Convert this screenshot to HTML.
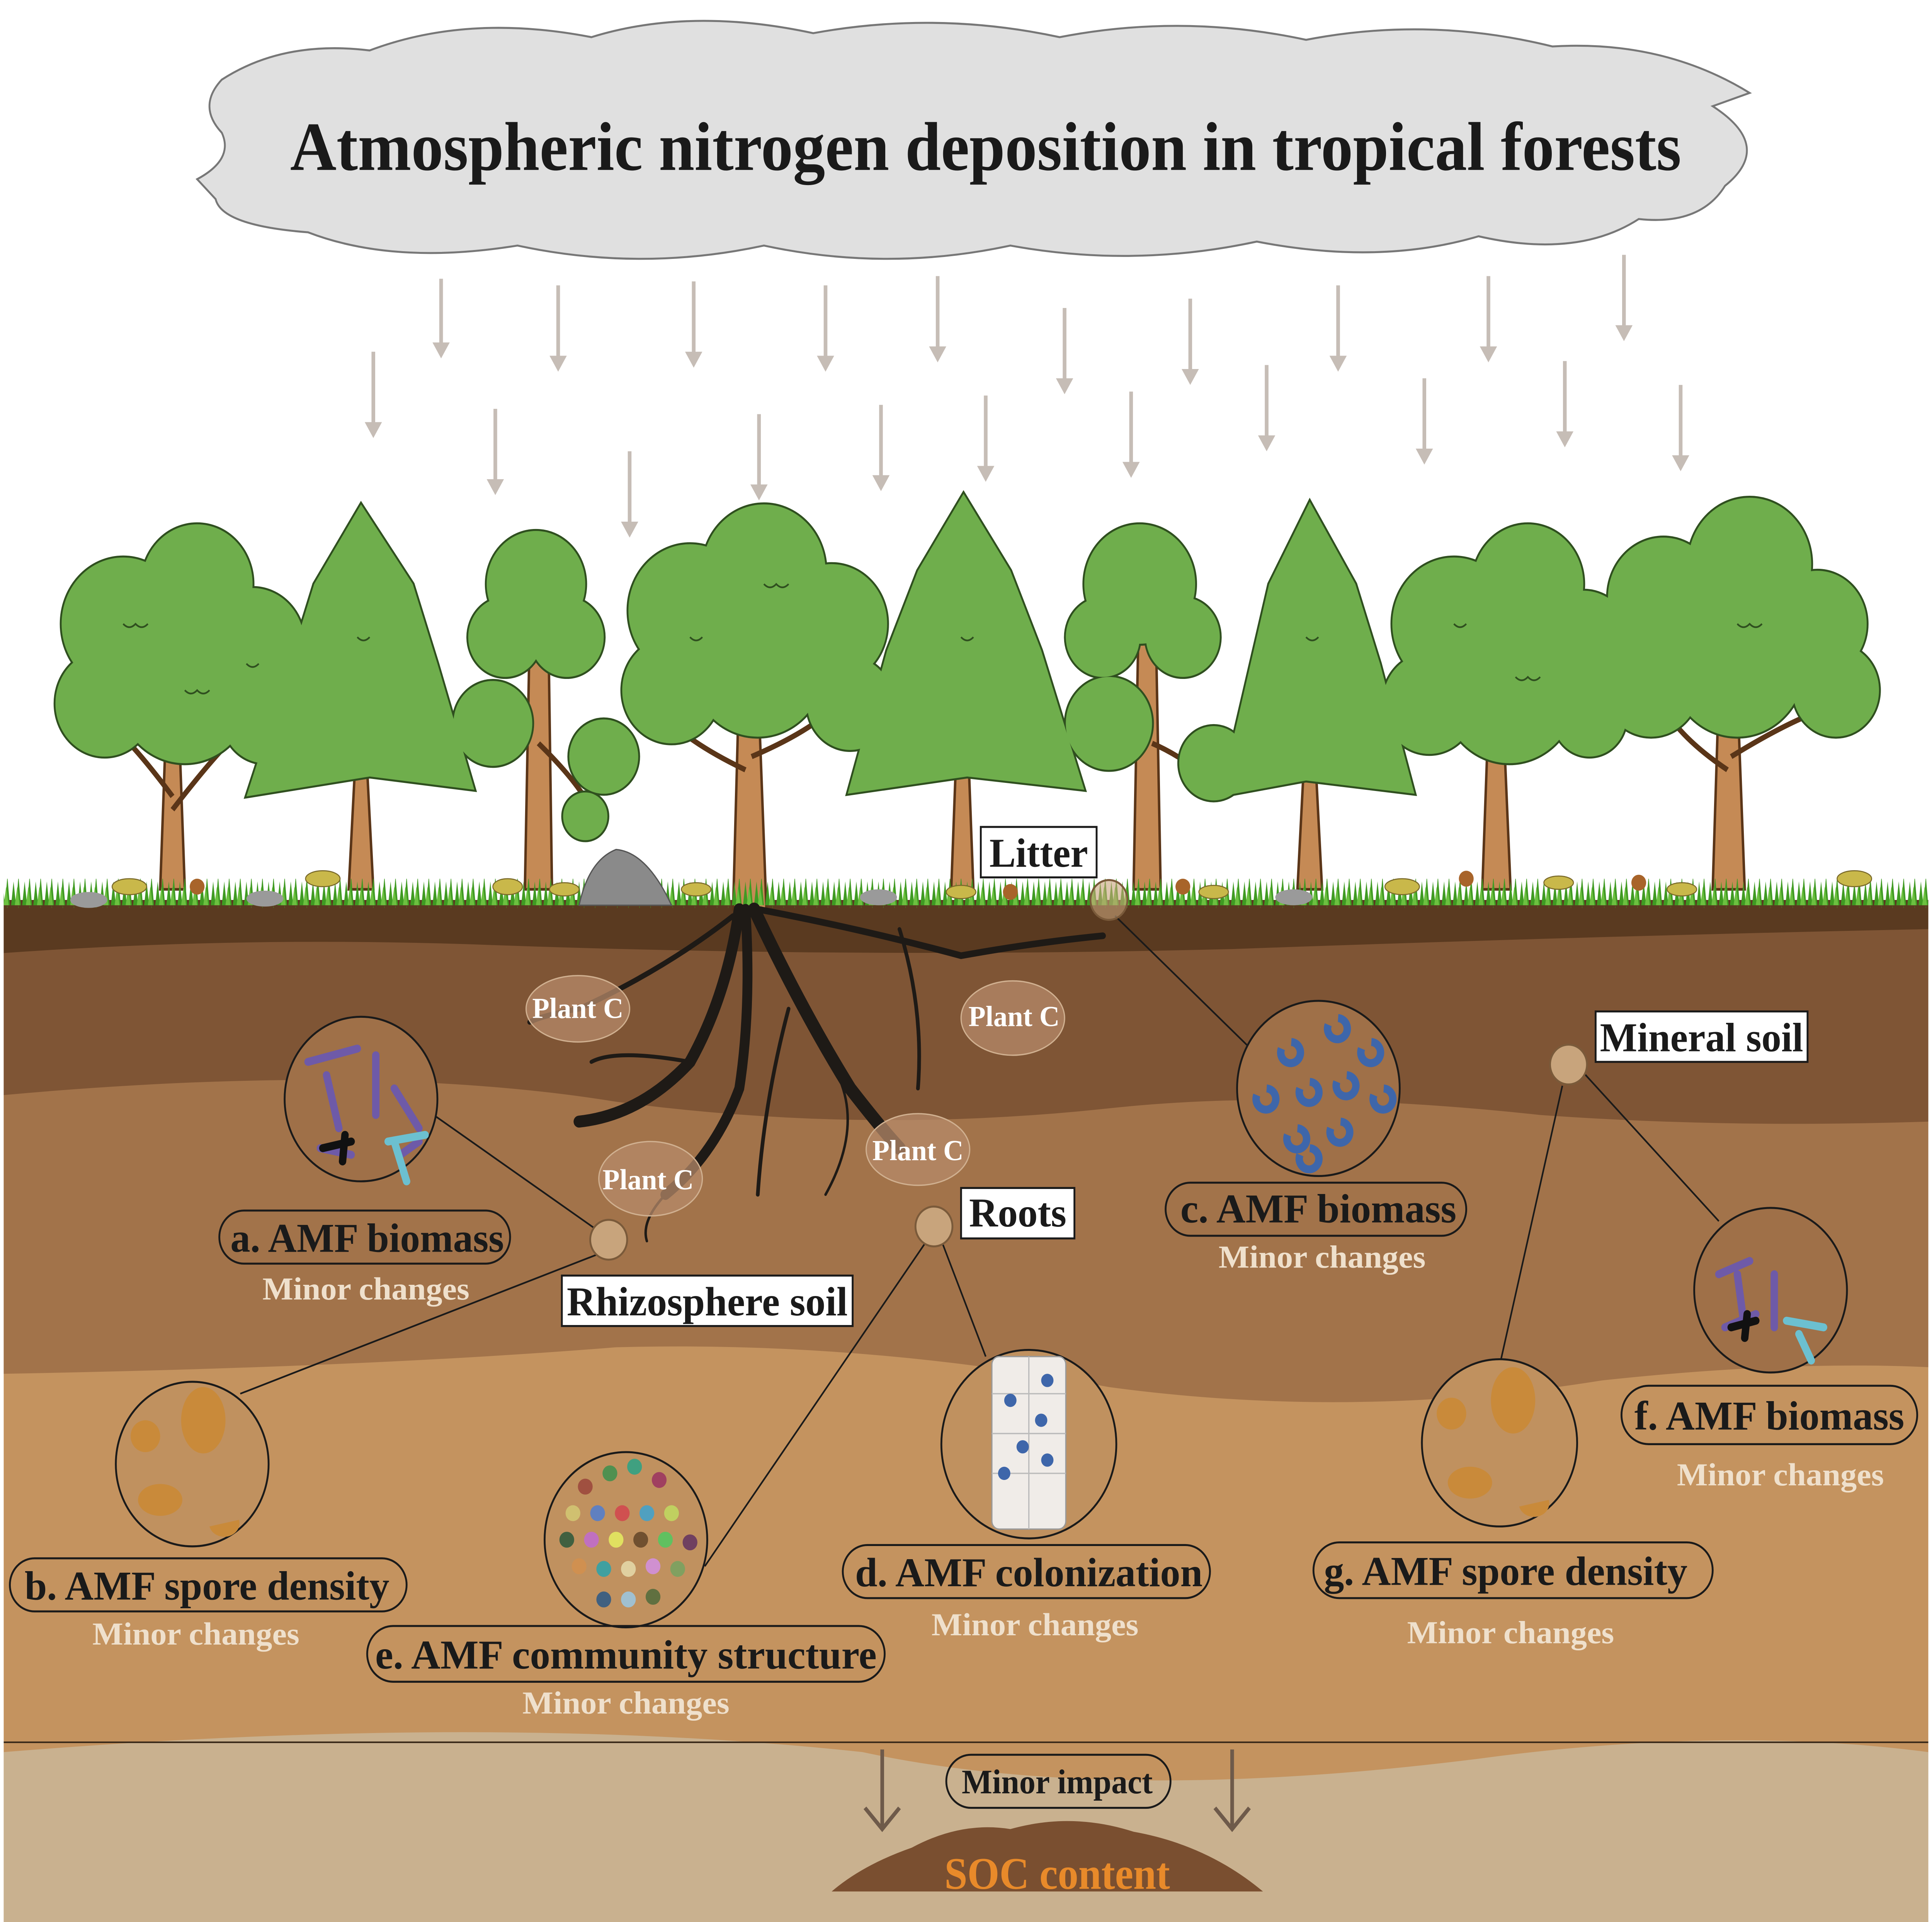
<!DOCTYPE html>
<html><head><meta charset="utf-8"><style>html,body{margin:0;padding:0;background:#fff;overflow:hidden;width:100%;height:100%}svg{display:block;position:fixed;left:0;top:0;width:100vw;height:100vh}</style></head><body>
<svg viewBox="0 0 1568 1448" preserveAspectRatio="none" xmlns="http://www.w3.org/2000/svg" font-family="Liberation Serif, serif" font-weight="bold">
<defs>
<pattern id="grass" x="0" y="0" width="9" height="22" patternUnits="userSpaceOnUse">
<path d="M0,22 L2,4 L4,22 L6,0 L8,22Z" fill="#3f9a22"/><path d="M3,22 L5,8 L7,22Z" fill="#6cc040"/>
</pattern>
</defs>
<rect width="1568" height="1448" fill="#fff"/>
<!-- cloud -->
<path d="M180,60 Q230,30 300,38 Q380,10 480,28 Q560,5 660,25 Q760,8 860,28 Q960,10 1060,30 Q1160,12 1260,35 Q1350,30 1420,70 L1390,80 Q1440,110 1400,140 Q1380,170 1330,165 Q1280,195 1200,178 Q1120,200 1020,182 Q920,202 820,185 Q720,205 620,185 Q520,205 420,185 Q320,200 250,175 Q180,170 175,150 L160,135 Q190,120 180,100 Q160,80 180,60 Z" fill="#e0e0e0" stroke="#777" stroke-width="1.5"/>
<text x="800" y="128" font-size="52" text-anchor="middle" fill="#1a1a1a" textLength="1129" lengthAdjust="spacingAndGlyphs">Atmospheric nitrogen deposition in tropical forests</text>
<!-- rain arrows -->
<g stroke="#c6bdb6" stroke-width="3">
<path d="M303,265V320M358,210V260M402,308V363M453,215V270M511,340V395M563,212V267M616,312V367M670,215V270M715,305V360M761,208V263M800,298V353M864,232V287M918,295V350M966,225V280M1028,275V330M1086,215V270M1156,285V340M1208,208V263M1270,272V327M1318,192V247M1364,290V345"/>
</g>
<g fill="#c6bdb6">
<path d="M296,318h14l-7,12z M351,258h14l-7,12z M395,361h14l-7,12z M446,268h14l-7,12z M504,393h14l-7,12z M556,265h14l-7,12z M609,365h14l-7,12z M663,268h14l-7,12z M708,358h14l-7,12z M754,261h14l-7,12z M793,351h14l-7,12z M857,285h14l-7,12z M911,348h14l-7,12z M959,278h14l-7,12z M1021,328h14l-7,12z M1079,268h14l-7,12z M1149,338h14l-7,12z M1201,261h14l-7,12z M1263,325h14l-7,12z M1311,245h14l-7,12z M1357,343h14l-7,12z"/>
</g>
<!-- soil layers -->
<rect x="3" y="678" width="1562" height="770" fill="#c4935f"/>
<path d="M3,1300 V1448 H1565 V1320 Q1400,1300 1200,1325 Q900,1360 700,1320 Q400,1290 3,1320Z" fill="#c9b18f"/>
<rect x="3" y="1312" width="1562" height="1.2" fill="#3a2a1a"/>
<path d="M3,678 H1565 V1030 Q1450,1025 1300,1040 Q1100,1070 900,1045 Q700,1010 500,1015 Q300,1030 3,1035Z" fill="#a2734a"/>
<path d="M3,678 H1565 V845 Q1400,850 1250,840 Q1050,820 900,835 Q700,855 500,830 Q300,800 3,825Z" fill="#7f5535"/>
<path d="M3,678 H1565 V700 Q1300,705 1000,715 Q700,722 400,712 Q200,705 3,718Z" fill="#5a3a20"/>
<!-- trunks -->
<g stroke="#5a3518" stroke-width="2" fill="#c58a55">
<path d="M130,670 L135,540 L145,540 L150,670Z"/><path d="M283,670 L288,580 L298,580 L303,670Z"/>
<path d="M426,670 L430,470 L445,470 L448,670Z"/><path d="M595,685 L600,510 L615,510 L622,685Z"/>
<path d="M772,670 L776,570 L786,570 L790,670Z"/><path d="M920,670 L924,470 L938,470 L942,670Z"/>
<path d="M1053,670 L1058,580 L1068,580 L1073,670Z"/><path d="M1203,670 L1208,540 L1220,540 L1226,670Z"/>
<path d="M1390,670 L1395,520 L1410,520 L1416,670Z"/>
</g>
<g stroke="#5a3518" stroke-width="4" fill="none">
<path d="M140,600 Q120,575 105,560 M140,610 Q165,580 180,565 M605,580 Q560,560 540,540 M610,570 Q660,550 680,530 M1402,580 Q1370,560 1355,540 M1405,570 Q1440,550 1465,540 M935,560 Q960,570 985,590 M437,560 Q470,590 480,610"/>
</g>
<!-- crowns -->
<g fill="#6fae4c" stroke="#2f4f1f" stroke-width="3">
<g id="crowns">
<circle cx="100" cy="470" r="50"/><circle cx="160" cy="440" r="45"/><circle cx="205" cy="485" r="42"/><circle cx="85" cy="530" r="40"/><circle cx="150" cy="520" r="55"/><circle cx="215" cy="540" r="35"/>
<path d="M293,380 L335,440 L355,500 L385,595 L300,585 L200,600 L235,500 L255,440Z"/>
<circle cx="435" cy="440" r="40"/><circle cx="410" cy="480" r="30"/><circle cx="460" cy="480" r="30"/><circle cx="400" cy="545" r="32"/><circle cx="490" cy="570" r="28"/><circle cx="475" cy="615" r="18"/>
<circle cx="560" cy="460" r="50"/><circle cx="620" cy="430" r="50"/><circle cx="675" cy="470" r="45"/><circle cx="545" cy="520" r="40"/><circle cx="615" cy="500" r="55"/><circle cx="690" cy="530" r="35"/>
<path d="M782,372 L820,430 L845,490 L880,595 L785,585 L688,598 L720,490 L745,430Z"/>
<circle cx="925" cy="440" r="45"/><circle cx="895" cy="480" r="30"/><circle cx="960" cy="480" r="30"/><circle cx="900" cy="545" r="35"/><circle cx="985" cy="575" r="28"/>
<path d="M1063,378 L1100,440 L1120,500 L1148,598 L1060,588 L990,600 L1015,500 L1030,440Z"/>
<circle cx="1180" cy="470" r="50"/><circle cx="1240" cy="440" r="45"/><circle cx="1285" cy="485" r="40"/><circle cx="1160" cy="530" r="38"/><circle cx="1225" cy="520" r="55"/><circle cx="1290" cy="540" r="30"/>
<circle cx="1350" cy="450" r="45"/><circle cx="1420" cy="425" r="50"/><circle cx="1475" cy="470" r="40"/><circle cx="1340" cy="515" r="40"/><circle cx="1410" cy="500" r="55"/><circle cx="1490" cy="520" r="35"/>
</g>
</g>
<use href="#crowns" fill="#6fae4c" stroke="none"/>
<g stroke="#2f4f1f" stroke-width="1.3" fill="none">
<path d="M100,470 q5,5 10,0 q5,5 10,0 M150,520 q5,5 10,0 q5,5 10,0 M620,440 q5,5 10,0 q5,5 10,0 M1230,510 q5,5 10,0 q5,5 10,0 M1410,470 q5,5 10,0 q5,5 10,0 M560,480 q5,5 10,0 M290,480 q5,5 10,0 M780,480 q5,5 10,0 M1060,480 q5,5 10,0 M200,500 q5,5 10,0 M1180,470 q5,5 10,0"/>
</g>
<!-- grass -->
<rect x="3" y="662" width="1562" height="22" fill="url(#grass)"/>
<!-- rocks, leaves -->
<path d="M470,682 Q478,648 500,640 Q525,642 545,682Z" fill="#8a8a8a" stroke="#555"/>
<g fill="#9a9a9a"><ellipse cx="72" cy="678" rx="15" ry="6"/><ellipse cx="215" cy="677" rx="15" ry="6"/><ellipse cx="713" cy="676" rx="15" ry="6"/><ellipse cx="1050" cy="676" rx="15" ry="6"/></g>
<g fill="#c9b84a" stroke="#7a6a2a" stroke-width="0.8"><ellipse cx="105" cy="668" rx="14" ry="6"/><ellipse cx="262" cy="662" rx="14" ry="6"/><ellipse cx="412" cy="668" rx="12" ry="6"/><ellipse cx="458" cy="670" rx="12" ry="5"/><ellipse cx="565" cy="670" rx="12" ry="5"/><ellipse cx="780" cy="672" rx="12" ry="5"/><ellipse cx="985" cy="672" rx="12" ry="5"/><ellipse cx="1138" cy="668" rx="14" ry="6"/><ellipse cx="1265" cy="665" rx="12" ry="5"/><ellipse cx="1365" cy="670" rx="12" ry="5"/><ellipse cx="1505" cy="662" rx="14" ry="6"/></g>
<g fill="#a8642a"><circle cx="160" cy="668" r="6"/><circle cx="820" cy="672" r="6"/><circle cx="960" cy="668" r="6"/><circle cx="1190" cy="662" r="6"/><circle cx="1330" cy="665" r="6"/></g>
<!-- roots -->
<g stroke="#1e1a16" fill="none" stroke-linecap="round">
<path d="M600,685 Q590,750 560,800 Q520,840 470,845" stroke-width="9"/>
<path d="M605,685 Q610,760 600,820 Q580,870 540,900" stroke-width="8"/>
<path d="M612,685 Q650,760 690,820 Q715,850 730,865" stroke-width="10"/>
<path d="M615,685 Q700,700 780,720 Q840,710 895,705" stroke-width="5"/>
<path d="M595,690 Q540,730 470,760 Q440,765 430,770" stroke-width="4"/>
<path d="M640,760 Q620,830 615,900" stroke-width="3"/>
<path d="M730,700 Q750,760 745,820" stroke-width="3"/>
<path d="M680,810 Q700,850 670,900" stroke-width="2"/>
<path d="M560,800 Q500,790 480,800" stroke-width="3"/>
<path d="M540,900 Q520,920 525,935" stroke-width="2"/>
</g>
<!-- Plant C -->
<g fill="#b58a6a" fill-opacity="0.75" stroke="#d0b090" stroke-width="1">
<ellipse cx="469" cy="760" rx="42" ry="25"/><ellipse cx="822" cy="767" rx="42" ry="28"/><ellipse cx="528" cy="888" rx="42" ry="28"/><ellipse cx="745" cy="866" rx="42" ry="27"/>
</g>
<g font-size="22" fill="#fff"><text x="432" y="767" textLength="74" lengthAdjust="spacingAndGlyphs">Plant C</text><text x="786" y="773" textLength="74" lengthAdjust="spacingAndGlyphs">Plant C</text><text x="489" y="896" textLength="74" lengthAdjust="spacingAndGlyphs">Plant C</text><text x="708" y="874" textLength="74" lengthAdjust="spacingAndGlyphs">Plant C</text></g>
<!-- connectors -->
<g stroke="#1a1a1a" stroke-width="1.3" fill="none">
<path d="M352,840 L482,925 M485,945 L195,1050 M752,935 L572,1180 M765,937 L800,1022 M905,690 L1015,790 M1268,818 L1218,1025 M1285,808 L1395,920"/>
</g>
<g fill="#c8a47c" stroke="#7a5a3a" stroke-width="1.5">
<circle cx="494" cy="934" r="15"/><circle cx="758" cy="924" r="15"/><circle cx="900" cy="678" r="15" fill-opacity="0.6"/><circle cx="1273" cy="802" r="15"/>
</g>
<!-- detail circles -->
<g fill="#9f7048" stroke="#1a1a1a" stroke-width="1.5">
<circle cx="293" cy="828" r="62"/><circle cx="1070" cy="820" r="66"/>
<circle cx="1437" cy="972" r="62"/>
</g>
<g fill="#c0915f" stroke="#1a1a1a" stroke-width="1.5">
<circle cx="156" cy="1103" r="62"/><circle cx="508" cy="1160" r="66"/><circle cx="835" cy="1088" r="71"/><circle cx="1217" cy="1087" r="63"/>
</g>
<!-- circle contents -->
<g stroke-width="6" stroke-linecap="round" fill="none">
<path d="M250,800 L290,790 M265,810 L275,850 M305,795 L305,840 M320,820 L340,850 M260,865 L285,870 M325,870 L340,860" stroke="#6e5aa8"/>
<path d="M262,865 L285,860 M280,855 L278,875" stroke="#111"/>
<path d="M320,860 L330,890 M315,860 L345,855" stroke="#6cc0d0"/>
<path d="M1395,960 L1420,950 M1410,960 L1415,995 M1440,960 L1440,1000 M1400,1000 L1425,990" stroke="#6e5aa8"/>
<path d="M1405,1000 L1425,995 M1418,990 L1416,1008" stroke="#111"/>
<path d="M1460,1005 L1470,1025 M1450,995 L1480,1000" stroke="#6cc0d0"/>
</g>
<g fill="none" stroke="#3e66aa" stroke-width="6">
<path d="M1040,790 a8,8 0 1 0 8,-5"/><path d="M1078,772 a8,8 0 1 0 8,-5"/><path d="M1105,790 a8,8 0 1 0 8,-5"/><path d="M1020,825 a8,8 0 1 0 8,-5"/><path d="M1055,820 a8,8 0 1 0 8,-5"/><path d="M1085,815 a8,8 0 1 0 8,-5"/><path d="M1115,825 a8,8 0 1 0 8,-5"/><path d="M1045,855 a8,8 0 1 0 8,-5"/><path d="M1080,850 a8,8 0 1 0 8,-5"/><path d="M1055,870 a8,8 0 1 0 8,-5"/>
</g>
<g fill="#c98a3a"><ellipse cx="165" cy="1070" rx="18" ry="25"/><circle cx="118" cy="1082" r="12"/><ellipse cx="130" cy="1130" rx="18" ry="12"/><path d="M170,1150 a12,10 0 0 0 24,-5 z"/>
<ellipse cx="1228" cy="1055" rx="18" ry="25"/><circle cx="1178" cy="1065" r="12"/><ellipse cx="1193" cy="1117" rx="18" ry="12"/><path d="M1233,1135 a12,10 0 0 0 24,-5 z"/></g>
<g>
<circle cx="475" cy="1120" r="6" fill="#a05040"/><circle cx="495" cy="1110" r="6" fill="#509050"/><circle cx="515" cy="1105" r="6" fill="#40a080"/><circle cx="535" cy="1115" r="6" fill="#a04060"/>
<circle cx="465" cy="1140" r="6" fill="#d0c070"/><circle cx="485" cy="1140" r="6" fill="#6080c0"/><circle cx="505" cy="1140" r="6" fill="#d05050"/><circle cx="525" cy="1140" r="6" fill="#50a0c0"/><circle cx="545" cy="1140" r="6" fill="#c0d060"/>
<circle cx="460" cy="1160" r="6" fill="#406040"/><circle cx="480" cy="1160" r="6" fill="#c070c0"/><circle cx="500" cy="1160" r="6" fill="#e0e060"/><circle cx="520" cy="1160" r="6" fill="#705030"/><circle cx="540" cy="1160" r="6" fill="#60c060"/><circle cx="560" cy="1162" r="6" fill="#704060"/>
<circle cx="470" cy="1180" r="6" fill="#d09050"/><circle cx="490" cy="1182" r="6" fill="#40a0a0"/><circle cx="510" cy="1182" r="6" fill="#e0d0a0"/><circle cx="530" cy="1180" r="6" fill="#d090d0"/><circle cx="550" cy="1182" r="6" fill="#80a060"/>
<circle cx="490" cy="1205" r="6" fill="#406080"/><circle cx="510" cy="1205" r="6" fill="#a0c0d0"/><circle cx="530" cy="1203" r="6" fill="#607040"/>
</g>
<rect x="805" y="1022" width="60" height="130" rx="6" fill="#f0ece8" stroke="#999"/>
<path d="M835,1022V1152M805,1050H865M805,1080H865M805,1110H865" stroke="#bbb"/>
<g fill="#3e66aa"><circle cx="820" cy="1055" r="5"/><circle cx="845" cy="1070" r="5"/><circle cx="830" cy="1090" r="5"/><circle cx="815" cy="1110" r="5"/><circle cx="850" cy="1040" r="5"/><circle cx="850" cy="1100" r="5"/></g>
<!-- labels -->
<g fill="none" stroke="#1a1a1a" stroke-width="1.5">
<rect x="178" y="912" width="236" height="40" rx="20"/>
<rect x="8" y="1174" width="322" height="40" rx="20"/>
<rect x="298" y="1225" width="420" height="42" rx="21"/>
<rect x="684" y="1164" width="298" height="40" rx="20"/>
<rect x="946" y="891" width="244" height="40" rx="20"/>
<rect x="1066" y="1162" width="324" height="42" rx="21"/>
<rect x="1316" y="1044" width="240" height="44" rx="22"/>
<rect x="768" y="1322" width="182" height="40" rx="20"/>
</g>
<g fill="#fff" stroke="#1a1a1a" stroke-width="1.5">
<rect x="796" y="623" width="94" height="38"/>
<rect x="780" y="895" width="92" height="38"/>
<rect x="456" y="961" width="236" height="38"/>
<rect x="1295" y="762" width="172" height="38"/>
</g>
<g font-size="31" fill="#1a1a1a" text-anchor="middle" lengthAdjust="spacingAndGlyphs">
<text x="843" y="653" textLength="80" lengthAdjust="spacingAndGlyphs">Litter</text>
<text x="826" y="924" textLength="79" lengthAdjust="spacingAndGlyphs">Roots</text>
<text x="574" y="991" textLength="228" lengthAdjust="spacingAndGlyphs">Rhizosphere soil</text>
<text x="1381" y="792" textLength="165" lengthAdjust="spacingAndGlyphs">Mineral soil</text>
<text x="298" y="943" textLength="222" lengthAdjust="spacingAndGlyphs">a. AMF biomass</text>
<text x="168" y="1205" textLength="296" lengthAdjust="spacingAndGlyphs">b. AMF spore density</text>
<text x="508" y="1257" textLength="407" lengthAdjust="spacingAndGlyphs">e. AMF community structure</text>
<text x="835" y="1195" textLength="282" lengthAdjust="spacingAndGlyphs">d. AMF colonization</text>
<text x="1070" y="921" textLength="224" lengthAdjust="spacingAndGlyphs">c. AMF biomass</text>
<text x="1222" y="1194" textLength="295" lengthAdjust="spacingAndGlyphs">g. AMF spore density</text>
<text x="1436" y="1077" textLength="219" lengthAdjust="spacingAndGlyphs">f. AMF biomass</text>
</g>
<g font-size="24" fill="#efe0cc" text-anchor="middle">
<text x="297" y="979" textLength="168" lengthAdjust="spacingAndGlyphs">Minor changes</text>
<text x="159" y="1239" textLength="168" lengthAdjust="spacingAndGlyphs">Minor changes</text>
<text x="508" y="1291" textLength="168" lengthAdjust="spacingAndGlyphs">Minor changes</text>
<text x="840" y="1232" textLength="168" lengthAdjust="spacingAndGlyphs">Minor changes</text>
<text x="1073" y="955" textLength="168" lengthAdjust="spacingAndGlyphs">Minor changes</text>
<text x="1226" y="1238" textLength="168" lengthAdjust="spacingAndGlyphs">Minor changes</text>
<text x="1445" y="1119" textLength="168" lengthAdjust="spacingAndGlyphs">Minor changes</text>
</g>
<text x="858" y="1351" font-size="26" fill="#1a1a1a" text-anchor="middle" textLength="155" lengthAdjust="spacingAndGlyphs">Minor impact</text>
<!-- SOC -->
<g stroke="#6e5a4a" stroke-width="3" fill="none"><path d="M716,1318V1378M702,1362L716,1378L730,1362M1000,1318V1378M986,1362L1000,1378L1014,1362"/></g>
<path d="M675,1425 Q700,1405 740,1392 Q780,1372 820,1378 Q870,1365 920,1380 Q980,1390 1025,1425Z" fill="#7a4f30"/>
<text x="858" y="1423" font-size="34" fill="#e88a2a" text-anchor="middle" textLength="183" lengthAdjust="spacingAndGlyphs">SOC content</text>
</svg>
</body></html>
